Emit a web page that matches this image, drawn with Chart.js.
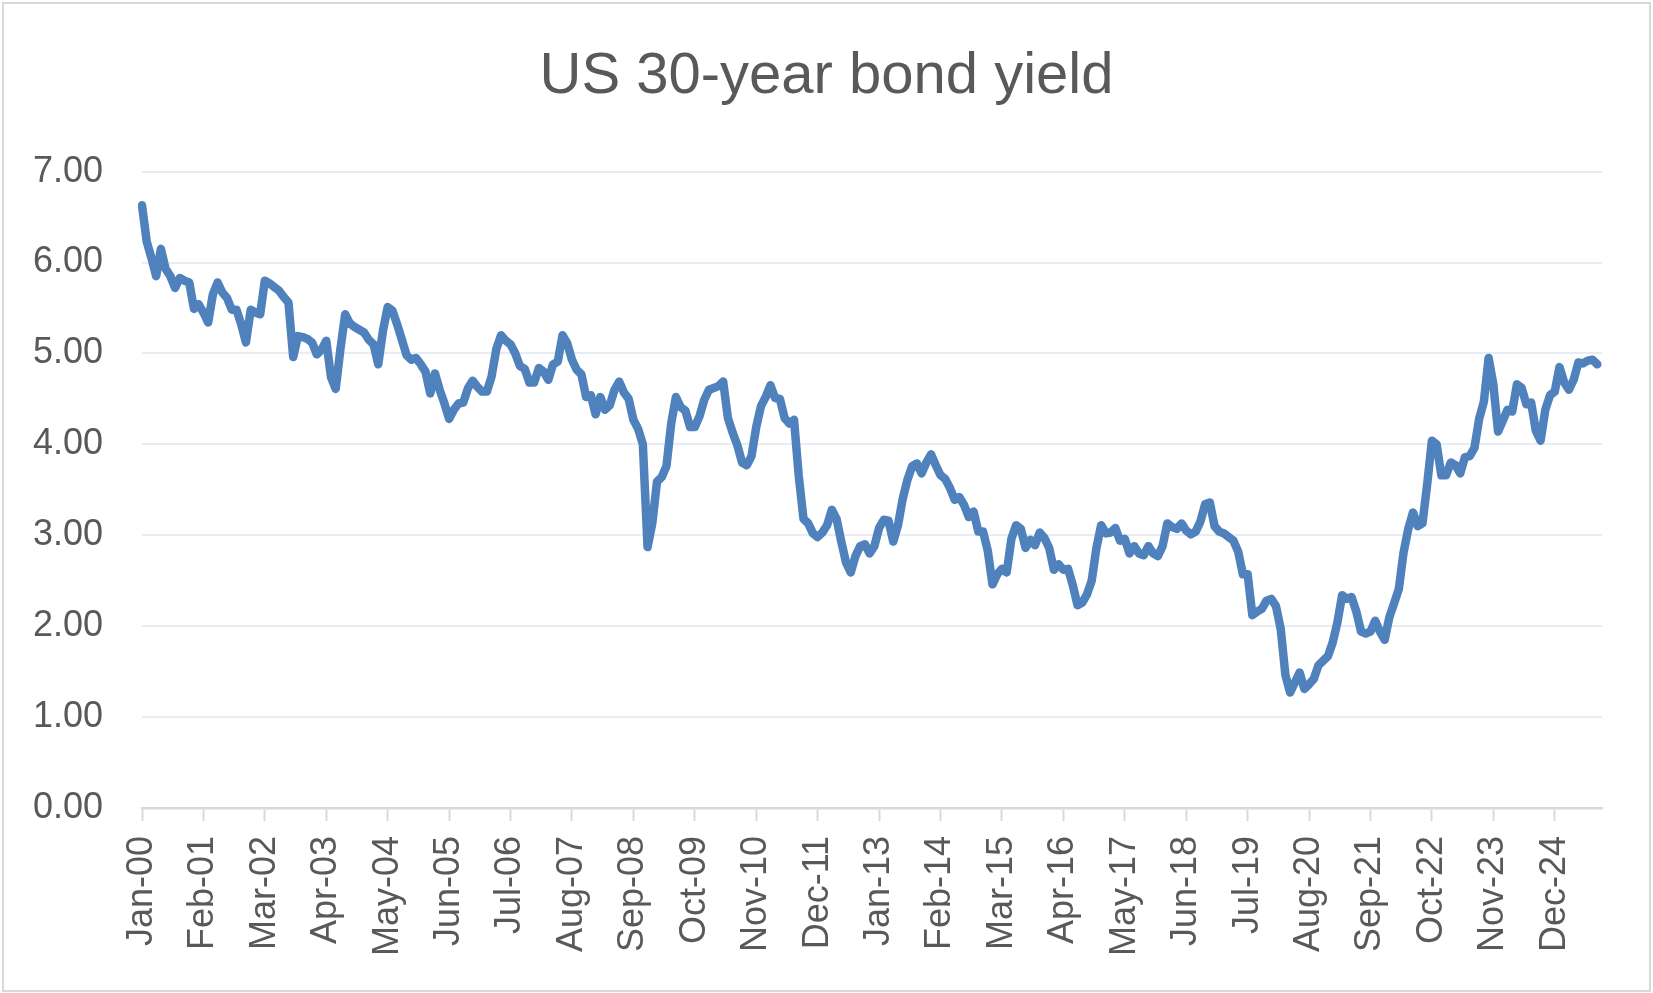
<!DOCTYPE html>
<html>
<head>
<meta charset="utf-8">
<script src="https://cdn.jsdelivr.net/npm/chart.js@4.4.1/dist/chart.umd.min.js"></script>
<style>
  html, body { margin: 0; padding: 0; background: #fff; }
  #frame {
    position: absolute; left: 2px; top: 2px; width: 1649px; height: 990px;
    box-sizing: border-box; border: 2px solid #d9d9d9; pointer-events: none;
  }
  #chart { position: absolute; left: 0; top: 0; }
</style>
</head>
<body>
<canvas id="chart" width="1653" height="993"></canvas>
<div id="frame"></div>
<script>
// monthly 30-year yield, Jan-2000 .. Sep-2025 (one row per year)
const yields = [
  6.63, 6.23, 6.05, 5.85, 6.15, 5.93, 5.85, 5.72, 5.83, 5.80, 5.78, 5.49,
  5.54, 5.45, 5.34, 5.65, 5.78, 5.67, 5.61, 5.48, 5.48, 5.32, 5.12, 5.48,
  5.45, 5.43, 5.80, 5.77, 5.73, 5.69, 5.62, 5.56, 4.96, 5.19, 5.18, 5.16,
  5.12, 4.99, 5.04, 5.14, 4.74, 4.61, 5.05, 5.43, 5.33, 5.29, 5.26, 5.23,
  5.15, 5.10, 4.88, 5.25, 5.51, 5.47, 5.32, 5.15, 4.98, 4.93, 4.95, 4.88,
  4.80, 4.56, 4.78, 4.60, 4.45, 4.28, 4.38, 4.45, 4.46, 4.62, 4.70, 4.63,
  4.58, 4.58, 4.75, 5.05, 5.20, 5.14, 5.10, 5.00, 4.86, 4.83, 4.68, 4.68,
  4.84, 4.80, 4.71, 4.88, 4.91, 5.20, 5.11, 4.93, 4.82, 4.77, 4.52, 4.54,
  4.33, 4.52, 4.38, 4.43, 4.60, 4.69, 4.57, 4.50, 4.27, 4.17, 4.00, 2.87,
  3.13, 3.59, 3.64, 3.76, 4.23, 4.52, 4.41, 4.37, 4.19, 4.19, 4.31, 4.49,
  4.60, 4.62, 4.64, 4.69, 4.29, 4.13, 3.99, 3.80, 3.77, 3.87, 4.19, 4.42,
  4.52, 4.65, 4.51, 4.50, 4.29, 4.23, 4.27, 3.65, 3.18, 3.13, 3.02, 2.98,
  3.03, 3.11, 3.28, 3.18, 2.93, 2.70, 2.59, 2.77, 2.88, 2.90, 2.80, 2.88,
  3.08, 3.17, 3.16, 2.93, 3.11, 3.40, 3.61, 3.76, 3.79, 3.68, 3.80, 3.89,
  3.77, 3.66, 3.62, 3.52, 3.39, 3.42, 3.33, 3.20, 3.26, 3.04, 3.04, 2.83,
  2.46, 2.57, 2.63, 2.59, 2.96, 3.11, 3.07, 2.86, 2.95, 2.89, 3.03, 2.97,
  2.86, 2.62, 2.68, 2.62, 2.63, 2.45, 2.23, 2.26, 2.35, 2.50, 2.86, 3.11,
  3.02, 3.03, 3.08, 2.94, 2.96, 2.80, 2.88, 2.80, 2.78, 2.88, 2.80, 2.77,
  2.88, 3.13, 3.09, 3.07, 3.13, 3.05, 3.01, 3.04, 3.15, 3.34, 3.36, 3.10,
  3.04, 3.02, 2.98, 2.94, 2.82, 2.57, 2.57, 2.12, 2.16, 2.19, 2.28, 2.30,
  2.22, 1.97, 1.46, 1.27, 1.38, 1.49, 1.31, 1.36, 1.42, 1.57, 1.62, 1.67,
  1.82, 2.04, 2.34, 2.30, 2.32, 2.16, 1.94, 1.92, 1.94, 2.06, 1.94, 1.85,
  2.10, 2.25, 2.41, 2.81, 3.07, 3.25, 3.10, 3.13, 3.56, 4.04, 4.00, 3.66,
  3.66, 3.80, 3.77, 3.68, 3.86, 3.87, 3.96, 4.28, 4.47, 4.95, 4.66, 4.14,
  4.26, 4.38, 4.36, 4.66, 4.62, 4.44, 4.46, 4.15, 4.04, 4.38, 4.54, 4.58,
  4.85, 4.68, 4.60, 4.71, 4.90, 4.89, 4.92, 4.93, 4.88
];

const monthNames = ["Jan","Feb","Mar","Apr","May","Jun","Jul","Aug","Sep","Oct","Nov","Dec"];
const firstYear = 2000;
const monthCount = 310;   // axis runs to Oct-25
const labelEvery = 13;    // a date label every 13 months

const months = [];
for (let i = 0; i < monthCount; i++) {
  const yy = (firstYear + Math.floor(i / 12)) % 100;
  months.push(monthNames[i % 12] + "-" + String(yy).padStart(2, "0"));
}

const grey = "#595959";
const font = { family: "'Liberation Sans', Arial, sans-serif", size: 36 };

new Chart(document.getElementById("chart"), {
  type: "line",
  data: {
    labels: months,
    datasets: [{
      label: "US 30-year bond yield",
      data: yields,
      borderColor: "#4f81bd",
      borderWidth: 8.5,
      borderJoinStyle: "round",
      borderCapStyle: "round",
      pointRadius: 0,
      tension: 0,
      fill: false
    }]
  },
  options: {
    responsive: false,
    animation: false,
    // same padding both sides so the title sits in the middle of the page;
    // the extra room on the right comes from the x axis (afterFit below)
    layout: { padding: { left: 33, right: 33, top: 0, bottom: 22 } },
    plugins: {
      legend: { display: false },
      tooltip: { enabled: false },
      title: {
        display: true,
        text: "US 30-year bond yield",
        color: grey,
        font: { family: font.family, size: 58, weight: "normal", lineHeight: 1.2 },
        padding: { top: 42, bottom: 60 }
      }
    },
    scales: {
      x: {
        afterFit: s => { s.paddingLeft = 0; s.paddingRight = 51; },
        grid: {
          drawOnChartArea: false,
          tickLength: 13,
          tickWidth: 2,
          tickColor: c => (c.index % labelEvery === 0 ? "#d9d9d9" : "rgba(0,0,0,0)")
        },
        border: { display: true, color: "#d9d9d9", width: 2.5 },
        ticks: {
          autoSkip: false,
          minRotation: 90,
          maxRotation: 90,
          padding: 15,
          color: grey,
          font: font,
          callback: function (v, i) { return i % labelEvery === 0 ? months[i] : ""; }
        }
      },
      y: {
        min: 0,
        max: 7,
        afterFit: s => { s.width = 109; },
        grid: {
          color: c => (c.tick.value === 0 ? "rgba(0,0,0,0)" : "#e8edf5"),
          lineWidth: 2,
          drawTicks: false
        },
        border: { display: false },
        ticks: {
          stepSize: 1,
          padding: 39,
          color: grey,
          font: font,
          callback: v => v.toFixed(2)
        }
      }
    }
  }
});
</script>
</body>
</html>
